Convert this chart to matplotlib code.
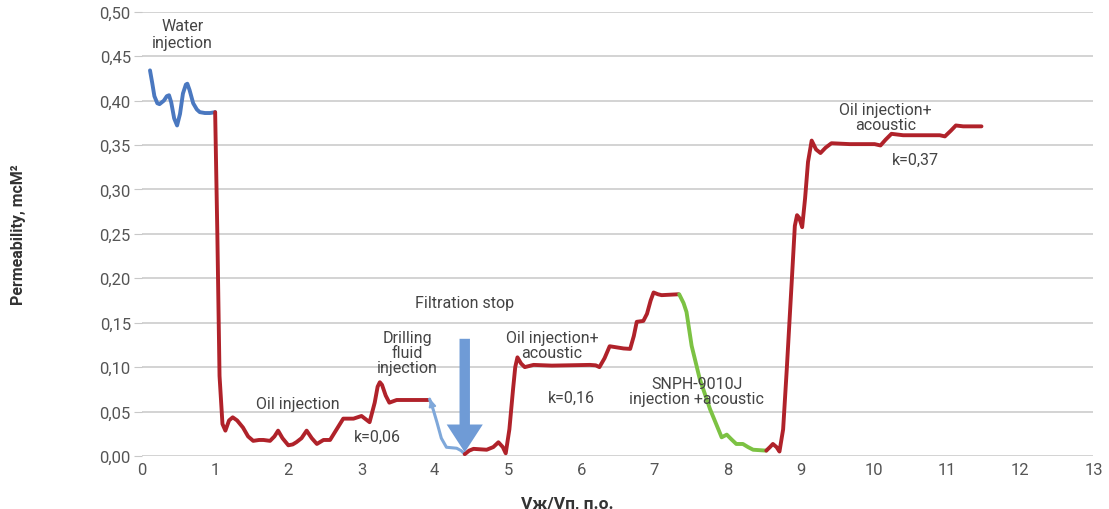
import numpy as np
import matplotlib
matplotlib.use("Agg")
import matplotlib.pyplot as plt
from matplotlib.ticker import FuncFormatter

plt.rcParams['font.family'] = ['Roboto', 'DejaVu Sans']

# water injection (blue)
water_x = [0.11, 0.14, 0.17, 0.21, 0.24, 0.30, 0.34, 0.37, 0.40, 0.44, 0.48, 0.52, 0.56, 0.60, 0.62,
           0.65, 0.70, 0.75, 0.79, 0.86, 0.93, 1.00]
water_y = [0.434, 0.420, 0.405, 0.397, 0.396, 0.400, 0.405, 0.406, 0.398, 0.380, 0.372, 0.385, 0.408,
           0.418, 0.419, 0.412, 0.397, 0.390, 0.387, 0.386, 0.386, 0.387]

# oil injection (red, first)
oil1_x = [1.00, 1.03, 1.06, 1.10, 1.14, 1.19, 1.24, 1.30, 1.38, 1.45, 1.52, 1.60, 1.66, 1.75, 1.81,
          1.86, 1.92, 2.00, 2.06, 2.11, 2.18, 2.25, 2.32, 2.39, 2.48, 2.57, 2.66, 2.75, 2.89, 3.00,
          3.11, 3.18, 3.22, 3.25, 3.28, 3.33, 3.38, 3.48, 3.70, 3.91]
oil1_y = [0.387, 0.250, 0.090, 0.036, 0.0285, 0.040, 0.0435, 0.040, 0.032, 0.022, 0.017, 0.018, 0.018,
          0.017, 0.022, 0.0285, 0.020, 0.012, 0.013, 0.0155, 0.020, 0.0285, 0.020, 0.0135, 0.018,
          0.018, 0.030, 0.042, 0.042, 0.045, 0.038, 0.060, 0.078, 0.083, 0.080, 0.068, 0.060, 0.063,
          0.063, 0.063]

# drilling fluid (light blue)
mud_x = [3.93, 3.98, 4.03, 4.09, 4.16, 4.30, 4.36, 4.41]
mud_y = [0.064, 0.052, 0.038, 0.020, 0.0098, 0.0087, 0.006, 0.002]

# oil injection + acoustic (red, second)
oil2_x = [4.41, 4.47, 4.53, 4.71, 4.80, 4.87, 4.93, 4.97, 5.02, 5.07, 5.10, 5.13, 5.18, 5.23, 5.35,
          5.60, 6.12, 6.20, 6.25, 6.32, 6.39, 6.58, 6.67, 6.72, 6.76, 6.85, 6.90, 6.95, 6.99, 7.05,
          7.10, 7.33]
oil2_y = [0.002, 0.006, 0.008, 0.007, 0.010, 0.0154, 0.010, 0.003, 0.030, 0.075, 0.100, 0.111, 0.104,
          0.100, 0.1025, 0.1017, 0.1025, 0.102, 0.100, 0.110, 0.1235, 0.121, 0.1205, 0.135, 0.151,
          0.152, 0.160, 0.175, 0.184, 0.182, 0.181, 0.182]

# SNPH-9010J + acoustic (green)
snph_x = [7.34, 7.40, 7.44, 7.51, 7.62, 7.76, 7.85, 7.92, 7.99, 8.05, 8.12, 8.21, 8.28, 8.35, 8.53]
snph_y = [0.182, 0.172, 0.162, 0.124, 0.087, 0.053, 0.035, 0.021, 0.024, 0.019, 0.0135, 0.0135,
          0.010, 0.007, 0.006]

# oil injection + acoustic (red, third)
oil3_x = [8.53, 8.58, 8.62, 8.67, 8.71, 8.76, 8.81, 8.88, 8.92, 8.95, 8.98, 9.02, 9.06, 9.10, 9.15,
          9.21, 9.27, 9.34, 9.42, 9.67, 10.01, 10.09, 10.16, 10.24, 10.40, 10.90, 10.97, 11.05,
          11.12, 11.22, 11.47]
oil3_y = [0.006, 0.010, 0.0135, 0.010, 0.005, 0.030, 0.098, 0.200, 0.259, 0.271, 0.268, 0.2575,
          0.290, 0.331, 0.355, 0.345, 0.341, 0.347, 0.352, 0.351, 0.351, 0.3495, 0.356, 0.3626,
          0.361, 0.361, 0.3597, 0.366, 0.372, 0.371, 0.371]

red = '#B0222A'
fig = plt.figure(figsize=(11.09, 5.10), dpi=100)
ax = fig.add_axes([0.128, 0.104, 0.858, 0.871])

kw = dict(lw=2.8, solid_capstyle='round', solid_joinstyle='round')
ax.plot(water_x, water_y, color='#4A78C0', **kw)
ax.plot(oil1_x, oil1_y, color=red, **kw)
ax.plot(mud_x, mud_y, color='#7FA8DA', lw=2.2, solid_capstyle='round', solid_joinstyle='round')
ax.annotate('', xy=(mud_x[0], mud_y[0] + 0.003), xytext=(mud_x[1], mud_y[1]),
            arrowprops=dict(arrowstyle='-|>', color='#7FA8DA', lw=1.5, mutation_scale=10))
ax.plot(oil2_x, oil2_y, color=red, **kw)
ax.plot(snph_x, snph_y, color='#7CC243', **kw)
ax.plot(oil3_x, oil3_y, color=red, **kw)

# filtration stop arrow
ax.annotate('', xy=(4.41, 0.001), xytext=(4.41, 0.135),
            arrowprops=dict(arrowstyle='simple,head_width=2.6,head_length=2.0,tail_width=0.75',
                            color='#6F9BD6', lw=0, mutation_scale=10))

ax.set_xlim(0, 13)
ax.set_ylim(0, 0.5)
ax.set_xticks(range(0, 14))
ax.set_yticks(np.arange(0, 0.501, 0.05))
ax.yaxis.set_major_formatter(FuncFormatter(lambda v, p: f'{v:.2f}'.replace('.', ',')))
ax.grid(axis='y', color='#D0D0D0', lw=1.3)
ax.set_axisbelow(True)
for s in ax.spines.values():
    s.set_visible(False)
ax.tick_params(axis='y', length=6, color='#C8C8C8', labelsize=12, labelcolor='#555555', pad=2)
ax.tick_params(axis='x', length=0, labelsize=12, labelcolor='#555555', pad=4)

ax.set_ylabel('Permeability, mcM²', fontsize=11.5, fontweight='bold', color='#333333')
ax.yaxis.set_label_coords(-0.122, 0.5)
ax.set_xlabel('Vж/Vп, п.о.', fontsize=12.5, fontweight='bold', color='#333333')
ax.xaxis.set_label_coords((567 - 142) / 951, -0.09)

tc = '#444444'
fs = 11.5
ax.text(0.55, 0.475, 'Water\ninjection', ha='center', va='center', fontsize=fs, color=tc)
ax.text(2.13, 0.0585, 'Oil injection', ha='center', va='center', fontsize=fs, color=tc)
ax.text(3.22, 0.0217, 'k=0,06', ha='center', va='center', fontsize=fs, color=tc)
ax.text(3.63, 0.117, 'Drilling\nfluid\ninjection', ha='center', va='center', fontsize=fs, color=tc,
        linespacing=1.0)
ax.text(4.41, 0.173, 'Filtration stop', ha='center', va='center', fontsize=fs, color=tc)
ax.text(5.60, 0.125, 'Oil injection+\nacoustic', ha='center', va='center', fontsize=fs, color=tc,
        linespacing=1.0)
ax.text(5.87, 0.066, 'k=0,16', ha='center', va='center', fontsize=fs, color=tc)
ax.text(7.58, 0.0736, 'SNPH-9010J\ninjection +acoustic', ha='center', va='center', fontsize=fs,
        color=tc, linespacing=1.0)
ax.text(10.16, 0.381, 'Oil injection+\nacoustic', ha='center', va='center', fontsize=fs, color=tc,
        linespacing=1.0)
ax.text(10.57, 0.334, 'k=0,37', ha='center', va='center', fontsize=fs, color=tc)

fig.savefig('out.png', dpi=100)
